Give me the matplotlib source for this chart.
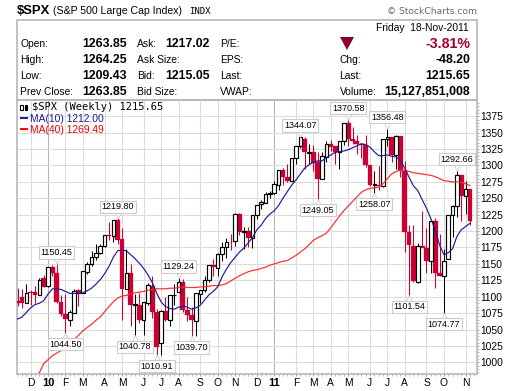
import numpy as np
import matplotlib
matplotlib.use("Agg")
import matplotlib.pyplot as plt
from matplotlib.patches import Polygon, Rectangle
from matplotlib.ticker import FixedLocator, MultipleLocator

# ---------------- DATA (weekly, 20-Nov-2009 to 18-Nov-2011) ----------------
opens = [1094, 1099, 1091, 1107, 1107, 1102, 1128, 1117, 1145, 1136, 1092, 1074, 1065, 1075, 1110, 1105, 1138, 1150, 1160, 1167,
         1178, 1194, 1192, 1217, 1188, 1111, 1136, 1087, 1087, 1065, 1091, 1117, 1077, 1029, 1078, 1064, 1102, 1107, 1122, 1079,
         1072, 1063, 1104, 1110, 1126, 1148, 1144, 1165, 1176, 1184, 1185, 1226, 1199, 1200, 1190, 1225, 1242, 1243, 1256, 1258,
         1271, 1293, 1283, 1277, 1311, 1329, 1340, 1319, 1321, 1305, 1279, 1313, 1332, 1329, 1320, 1337, 1365, 1340, 1338, 1333,
         1331, 1300, 1271, 1271, 1268, 1340, 1344, 1316, 1345, 1292, 1198, 1178, 1123, 1177, 1174, 1154, 1216, 1136, 1131, 1158,
         1224, 1239, 1285, 1253, 1263.85]
highs = [1113, 1111, 1119, 1110, 1116, 1129, 1133, 1145, 1148, 1150.45, 1103, 1104, 1080, 1112, 1112, 1139, 1153, 1170, 1181, 1181,
         1194, 1214, 1217, 1219.80, 1205, 1173, 1150, 1104, 1106, 1092, 1121, 1131, 1082, 1079, 1100, 1103, 1120, 1129.24, 1127, 1100,
         1084, 1105, 1110, 1131, 1148, 1158, 1167, 1184, 1189, 1196, 1227, 1227, 1207, 1207, 1225, 1240, 1247, 1259, 1261, 1277,
         1293, 1296, 1302, 1311, 1330, 1344.07, 1344, 1332, 1331, 1320, 1321, 1337, 1339, 1329, 1338, 1364, 1370.58, 1359, 1346, 1334,
         1346, 1300, 1292, 1299, 1340, 1356.48, 1344, 1347, 1345, 1307, 1209, 1209, 1182, 1230, 1204, 1217, 1220, 1196, 1172, 1224,
         1240, 1292.66, 1285, 1277, 1264.25]
lows = [1086, 1083, 1091, 1088, 1091, 1102, 1115, 1115, 1131, 1090, 1071, 1044.50, 1056, 1075, 1086, 1105, 1134, 1147, 1156, 1165,
        1175, 1186, 1183, 1181, 1065, 1111, 1056, 1040.78, 1060, 1042, 1088, 1067, 1010.91, 1011, 1063, 1056, 1088, 1107, 1076, 1063,
        1039.70, 1040, 1091, 1107, 1122, 1131, 1131, 1155, 1159, 1171, 1177, 1194, 1173, 1176, 1174, 1219, 1233, 1243, 1251, 1257,
        1262, 1271, 1275, 1276, 1302, 1327, 1294, 1302, 1291, 1249.05, 1279, 1305, 1322, 1302, 1294, 1331, 1329, 1333, 1318, 1311,
        1297, 1268, 1258.07, 1263, 1267, 1330, 1306, 1295, 1282, 1168, 1101.54, 1122, 1121, 1176, 1136, 1136, 1114, 1131, 1074.77, 1158,
        1191, 1221, 1215, 1226, 1209.43]
closes = [1091, 1091, 1106, 1106, 1102, 1126, 1115, 1145, 1136, 1092, 1074, 1066, 1076, 1109, 1104, 1139, 1150, 1160, 1167, 1178,
          1194, 1192, 1217, 1187, 1111, 1136, 1088, 1089, 1065, 1092, 1118, 1077, 1023, 1078, 1065, 1103, 1102, 1122, 1079, 1072,
          1065, 1105, 1110, 1126, 1149, 1146, 1165, 1176, 1183, 1183, 1226, 1199, 1200, 1189, 1225, 1240, 1244, 1257, 1258, 1272,
          1293, 1283, 1276, 1311, 1329, 1343, 1320, 1321, 1304, 1279, 1314, 1332, 1328, 1320, 1337, 1364, 1340, 1338, 1333, 1331,
          1300, 1271, 1272, 1268, 1340, 1344, 1316, 1345, 1292, 1199, 1179, 1124, 1177, 1174, 1154, 1216, 1136, 1131, 1155, 1225,
          1238, 1285, 1253, 1264, 1215.65]

ma10 = [1066, 1069, 1076, 1083, 1088, 1090, 1094, 1104, 1112, 1112, 1111, 1108, 1105, 1105, 1105, 1106, 1109, 1113, 1119, 1126,
        1135, 1146, 1160, 1170, 1171, 1170, 1164, 1158, 1151, 1143, 1133, 1121, 1105, 1092, 1085, 1082, 1081, 1084, 1086, 1084,
        1081, 1083, 1087, 1095, 1103, 1108, 1115, 1130, 1142, 1152, 1160, 1168, 1174, 1182, 1190, 1202, 1209, 1219, 1226, 1231,
        1239, 1250, 1260, 1270, 1278, 1287, 1296, 1301, 1305, 1307, 1307, 1312, 1316, 1320, 1321, 1322, 1324, 1327, 1330, 1333,
        1332, 1328, 1321, 1315, 1315, 1316, 1314, 1313, 1308, 1296, 1282, 1269, 1262, 1248, 1235, 1219, 1202, 1179, 1164, 1167,
        1173, 1192, 1202, 1207, 1212]
ma40 = [np.nan, np.nan, np.nan, np.nan, np.nan, 984, 998, 1004, 1010, 1014, 1018, 1026, 1031, 1035, 1041, 1048, 1053, 1058, 1064, 1069,
        1077, 1085, 1092, 1098, 1101, 1102, 1104, 1106, 1107, 1108, 1110, 1111, 1112, 1112, 1112, 1113, 1113, 1114, 1115, 1114,
        1114, 1114, 1115, 1115, 1116, 1117, 1117, 1118, 1120, 1124, 1128, 1132, 1135, 1138, 1140, 1141, 1143, 1145, 1148, 1150,
        1152, 1154, 1155, 1159, 1163, 1168, 1173, 1179, 1186, 1190, 1193, 1197, 1205, 1214, 1223, 1231, 1238, 1245, 1252, 1259,
        1263, 1265, 1266, 1267, 1272, 1280, 1287, 1291, 1293, 1293, 1291, 1289, 1288, 1287, 1286, 1285, 1283, 1280, 1277, 1276,
        1275, 1275, 1274, 1272, 1269.49]

month_labels = ["D", "10", "F", "M", "A", "M", "J", "J", "A", "S", "O", "N", "D", "11", "F", "M", "A", "M", "J", "J", "A", "S", "O", "N"]
month_weeks = [3, 7, 11, 15, 20, 24, 29, 33, 37, 42, 46, 50, 55, 59, 64, 68, 72, 76, 81, 85, 89, 94, 98, 103]
peak_weeks = [9, 23, 37, 65, 76, 85, 101]
trough_weeks = [11, 27, 32, 40, 69, 82, 90, 98]

# ---------------- STYLE ----------------
W, H = 520, 391
FRAME = "#b8b8b8"
GRID = "#dcdcdc"
DOWN = "#cc0033"
SANS = "Liberation Sans"

fig = plt.figure(figsize=(W / 100, H / 100), dpi=100, facecolor="white")
ax = fig.add_axes([16.5 / W, 1 - 374 / H, 460 / W, 274 / H])

week = np.arange(len(closes))
op, hi, lo, cl = map(np.array, (opens, highs, lows, closes))
up = cl >= op

# wicks then bodies
ax.vlines(week[up], lo[up], hi[up], color="black", lw=0.75, zorder=3)
ax.vlines(week[~up], lo[~up], hi[~up], color=DOWN, lw=0.75, zorder=3)
ax.bar(week[~up], (op - cl)[~up], bottom=cl[~up], width=1.1, facecolor=DOWN,
       edgecolor=DOWN, linewidth=0.2, zorder=4)
ax.bar(week[up], np.maximum(cl - op, 1)[up], bottom=op[up], width=0.8, facecolor="white",
       edgecolor="black", linewidth=0.85, zorder=4)

ax.plot(week, ma40, color="#ff2a2a", lw=0.85, zorder=5)
ax.plot(week, ma10, color="#1c1c96", lw=0.85, zorder=5)

ax.set_xlim(-0.25, 105.5)
ax.set_ylim(982.2, 1399.8)

# grid, ticks
ax.set_axisbelow(True)
ax.yaxis.set_major_locator(MultipleLocator(25))
ax.yaxis.set_minor_locator(MultipleLocator(5))
ax.yaxis.tick_right()
ax.xaxis.set_major_locator(FixedLocator(month_weeks))
ax.xaxis.set_minor_locator(MultipleLocator(1))
ax.set_xticklabels(month_labels)
ax.grid(True, which="major", color=GRID, lw=0.75)
for lab, pos, gl in zip(month_labels, month_weeks, ax.get_xgridlines()):
    if lab in ("10", "11"):
        gl.set_color("#b4b4b4")
ax.tick_params(axis="y", which="major", length=1.5, width=0.6, color="#888888", pad=1.5, labelsize=7.4, labelfontfamily=SANS)
ax.tick_params(axis="x", which="major", length=1.5, width=0.6, color="#888888", pad=1.5, labelsize=7.4, labelfontfamily=SANS)
ax.tick_params(which="minor", length=1.2, width=0.5, color="#999999")
for t, lab in zip(ax.get_xticklabels(), month_labels):
    if lab in ("10", "11"):
        t.set_fontweight("bold")
        t.set_fontsize(8)
for s in ax.spines.values():
    s.set_color(FRAME)
    s.set_linewidth(1.2)

# peak / trough callouts
def callout(i, val, sign):
    ax.plot([i], [val + sign * 4], marker="v" if sign > 0 else "^", ms=4, mfc="white", mec="#cccccc", mew=0.6, zorder=6)
    ax.annotate(f"{val:.2f}", xy=(i, val), xytext=(0, sign * 8), textcoords="offset points",
                ha="center", va="center", fontsize=6.5, family=SANS, zorder=7,
                bbox=dict(boxstyle="square,pad=0.18", fc="white", ec="#cccccc", lw=0.8))

for i in peak_weeks:
    callout(i, hi[i], 1)
for i in trough_weeks:
    callout(i, lo[i], -1)

# ---------------- HEADER (pixel coordinates) ----------------
ov = fig.add_axes([0, 0, 1, 1], facecolor="none")
ov.set_xlim(0, W)
ov.set_ylim(H, 0)
ov.axis("off")
ov.add_patch(Rectangle((16.5, 19.5), 460, 80.5, fc="none", ec=FRAME, lw=1.2))

def txt(x, y, s, size=7.4, weight="normal", color="black", ha="left", family=SANS):
    ov.text(x, y, s, fontsize=size, fontweight=weight, color=color, ha=ha, va="center", family=family)

txt(16.5, 11, "$SPX", 9.4, "bold")
txt(53, 11, "(S&P 500 Large Cap Index)", 7.6)
txt(189, 11, "INDX", 6.5, family="DejaVu Sans Mono")
txt(477, 11, "© StockCharts.com", 6.6, color="#666666", ha="right", family="DejaVu Sans")

txt(469, 28, "Friday  18-Nov-2011", 7.4, ha="right")
txt(470, 44, "-3.81%", 10.2, "bold", color="#a3002f", ha="right")
ov.add_patch(Polygon([(340, 37), (354, 37), (347, 50)], fc="#8b0033", ec="none"))

rows = [44, 60, 76, 92]
col1 = ["Open:", "High:", "Low:", "Prev Close:"]
val1 = ["1263.85", "1264.25", "1209.43", "1263.85"]
col2 = ["Ask:", "Ask Size:", "Bid:", "Bid Size:"]
val2 = ["1217.02", "", "1215.05", ""]
col3 = ["P/E:", "EPS:", "Last:", "VWAP:"]
col4 = ["Chg:", "Last:", "Volume:"]
val4 = ["-48.20", "1215.65", "15,127,851,008"]
for y, a, b, c, d, e in zip(rows, col1, val1, col2, val2, col3):
    txt(20.5, y, a)
    txt(82.5, y, b, 8.8, "bold")
    txt(137, y, c)
    txt(165.5, y, d, 8.8, "bold")
    txt(220, y, e)
for y, a, b in zip(rows[1:], col4, val4):
    txt(339.5, y, a)
    txt(470, y, b, 8.8, "bold", ha="right")

# legend
txt(31.5, 107.5, "$SPX (Weekly) 1215.65", 7.5, family="DejaVu Sans Mono")
txt(29.5, 119, "MA(10) 1212.00", 7.4, color="#1c1c96")
txt(29.5, 130, "MA(40) 1269.49", 7.4, color="#ee0000")
ov.plot([19.5, 27.5], [117.5, 117.5], color="#1c1c96", lw=1.4, solid_capstyle="butt")
ov.plot([19.5, 27.5], [129, 129], color="#ff0000", lw=1.4, solid_capstyle="butt")
ov.add_patch(Rectangle((20, 104.5), 2.5, 5, fc="white", ec="black", lw=0.8))
ov.add_patch(Rectangle((24.5, 104.5), 2.5, 5, fc="black", ec="black", lw=0.8))

fig.savefig("out.png", dpi=100)
